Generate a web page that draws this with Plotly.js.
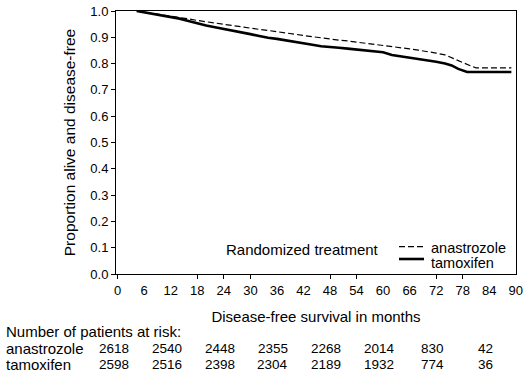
<!DOCTYPE html>
<html>
<head>
<meta charset="utf-8">
<script src="https://cdn.plot.ly/plotly-3.0.1.min.js"></script>
<style>
html,body{margin:0;padding:0;background:#fff;}
#chart{width:527px;height:372px;}
</style>
</head>
<body>
<div id="chart"></div>
<script>
// ---- data ----
var tamMonths = [4.3, 6, 8, 10, 12, 14, 16, 18, 20, 22, 24, 26, 28, 30, 32, 34, 36, 38, 40, 42, 44, 46, 48, 50, 52, 54, 56, 58, 60, 62, 64, 66, 68, 70, 72, 74, 75.5, 77, 79, 89];
var tamSurv   = [1.000, 0.995, 0.990, 0.985, 0.978, 0.971, 0.962, 0.952, 0.945, 0.938, 0.932, 0.925, 0.918, 0.912, 0.905, 0.898, 0.894, 0.889, 0.884, 0.878, 0.872, 0.866, 0.862, 0.860, 0.857, 0.854, 0.851, 0.848, 0.843, 0.833, 0.828, 0.823, 0.817, 0.812, 0.807, 0.800, 0.793, 0.780, 0.768, 0.768];

var anaMonths = [4.3, 6, 8, 10, 12, 14, 16, 18, 20, 22, 24, 26, 28, 30, 32, 34, 36, 38, 40, 42, 44, 46, 48, 50, 52, 54, 56, 58, 60, 62, 64, 66, 68, 70, 72, 74, 76, 78, 80, 81, 89];
var anaSurv   = [1.000, 0.996, 0.991, 0.986, 0.981, 0.976, 0.970, 0.964, 0.959, 0.955, 0.949, 0.943, 0.938, 0.934, 0.930, 0.926, 0.922, 0.917, 0.912, 0.907, 0.902, 0.897, 0.892, 0.889, 0.886, 0.882, 0.878, 0.874, 0.870, 0.866, 0.861, 0.856, 0.851, 0.846, 0.840, 0.833, 0.818, 0.803, 0.790, 0.784, 0.784];

var xTickVals = [0, 6, 12, 18, 24, 30, 36, 42, 48, 54, 60, 66, 72, 78, 84, 90];
var xTickMarks = [0, 18, 24, 30, 48, 54, 72, 78];
var yTickVals = [0, 0.1, 0.2, 0.3, 0.4, 0.5, 0.6, 0.7, 0.8, 0.9, 1.0];

var riskMonths = [0, 12, 24, 36, 48, 60, 72, 84];
var riskAna = [2618, 2540, 2448, 2355, 2268, 2014, 830, 42];
var riskTam = [2598, 2516, 2398, 2304, 2189, 1932, 774, 36];

var groupNames = ['anastrozole', 'tamoxifen'];
var legendTitle = 'Randomized treatment';
var riskTitle = 'Number of patients at risk:';

// ---- chart ----
var FONT = 'Liberation Sans, Arial, sans-serif';
var W = 527, H = 372;
var mL = 116, mR = 11, mT = 11, mB = 98;
var plotW = W - mL - mR, plotH = H - mT - mB;
function px2paperX(p){ return (p - mL) / plotW; }
function px2paperY(p){ return (H - mB - p) / plotH; }

var traces = [
  {x: anaMonths, y: anaSurv, type: 'scatter', mode: 'lines', name: groupNames[0], xaxis: 'x2', yaxis: 'y',
   line: {color: '#000', width: 1.2, dash: '6px,3px', shape: 'linear'}, showlegend: false, hoverinfo: 'skip'},
  {x: tamMonths, y: tamSurv, type: 'scatter', mode: 'lines', name: groupNames[1],
   line: {color: '#000', width: 2.6, shape: 'linear'}, showlegend: false, hoverinfo: 'skip'}
];

var xr = [-0.38, 90.05];
var annotations = [];
var shapes = [];

// legend
annotations.push({xref: 'paper', yref: 'paper', x: px2paperX(225), y: px2paperY(249), xanchor: 'left', yanchor: 'middle',
  text: legendTitle, showarrow: false, font: {family: FONT, size: 15, color: '#000'}, borderpad: 0});
annotations.push({xref: 'paper', yref: 'paper', x: px2paperX(430), y: px2paperY(247.5), xanchor: 'left', yanchor: 'middle',
  text: groupNames[0], showarrow: false, font: {family: FONT, size: 14.5, color: '#000'}, borderpad: 0});
annotations.push({xref: 'paper', yref: 'paper', x: px2paperX(430), y: px2paperY(263), xanchor: 'left', yanchor: 'middle',
  text: groupNames[1], showarrow: false, font: {family: FONT, size: 14.5, color: '#000'}, borderpad: 0});
shapes.push({type: 'line', xref: 'paper', yref: 'paper', x0: px2paperX(399), x1: px2paperX(424), y0: px2paperY(246.7), y1: px2paperY(246.7),
  line: {color: '#000', width: 1.2, dash: '6px,3px'}});
shapes.push({type: 'line', xref: 'paper', yref: 'paper', x0: px2paperX(399), x1: px2paperX(424), y0: px2paperY(259), y1: px2paperY(259),
  line: {color: '#000', width: 2.6}});

// risk table
annotations.push({xref: 'paper', yref: 'paper', x: px2paperX(5), y: px2paperY(332), xanchor: 'left', yanchor: 'middle',
  text: riskTitle, showarrow: false, font: {family: FONT, size: 15, color: '#000'}, borderpad: 0});
annotations.push({xref: 'paper', yref: 'paper', x: px2paperX(5), y: px2paperY(348.5), xanchor: 'left', yanchor: 'middle',
  text: groupNames[0], showarrow: false, font: {family: FONT, size: 15, color: '#000'}, borderpad: 0});
annotations.push({xref: 'paper', yref: 'paper', x: px2paperX(5), y: px2paperY(364), xanchor: 'left', yanchor: 'middle',
  text: groupNames[1], showarrow: false, font: {family: FONT, size: 15, color: '#000'}, borderpad: 0});
for (var i = 0; i < riskMonths.length; i++) {
  annotations.push({xref: 'x', yref: 'paper', x: riskMonths[i], y: px2paperY(348.5), xanchor: 'center', yanchor: 'middle', xshift: -4,
    text: String(riskAna[i]), showarrow: false, font: {family: FONT, size: 13.5, color: '#000'}, borderpad: 0});
  annotations.push({xref: 'x', yref: 'paper', x: riskMonths[i], y: px2paperY(364), xanchor: 'center', yanchor: 'middle', xshift: -4,
    text: String(riskTam[i]), showarrow: false, font: {family: FONT, size: 13.5, color: '#000'}, borderpad: 0});
}

var layout = {
  width: W, height: H,
  margin: {l: mL, r: mR, t: mT, b: mB, pad: 0},
  paper_bgcolor: '#fff', plot_bgcolor: '#fff',
  font: {family: FONT, size: 13, color: '#000'},
  showlegend: false,
  xaxis: {
    range: xr, tickmode: 'array', tickvals: xTickVals, ticktext: xTickVals.map(String),
    ticks: 'outside', ticklen: 4, tickcolor: 'rgba(0,0,0,0)', showgrid: false, zeroline: false,
    showline: true, linecolor: '#000', linewidth: 1, mirror: true,
    tickfont: {family: FONT, size: 13, color: '#000'},
    title: {text: 'Disease-free survival in months', font: {family: FONT, size: 15, color: '#000'}, standoff: 14},
    automargin: false
  },
  xaxis2: {
    range: xr, overlaying: 'x', anchor: 'y', side: 'bottom',
    tickmode: 'array', tickvals: xTickMarks, showticklabels: false,
    ticks: 'outside', ticklen: 4, tickcolor: '#000', tickwidth: 1,
    showgrid: false, zeroline: false, showline: false
  },
  yaxis: {
    range: [0, 1.0], tickmode: 'array', tickvals: yTickVals, tickformat: '.1f',
    ticks: 'outside', ticklen: 4, tickcolor: '#000', tickwidth: 1,
    showgrid: false, zeroline: false,
    showline: true, linecolor: '#000', linewidth: 1, mirror: true,
    tickfont: {family: FONT, size: 13, color: '#000'},
    title: {text: 'Proportion alive and disease-free', font: {family: FONT, size: 15.5, color: '#000'}, standoff: 10},
    automargin: false
  },
  annotations: annotations,
  shapes: shapes
};

Plotly.newPlot('chart', traces, layout, {staticPlot: true, displayModeBar: false});
</script>
</body>
</html>
